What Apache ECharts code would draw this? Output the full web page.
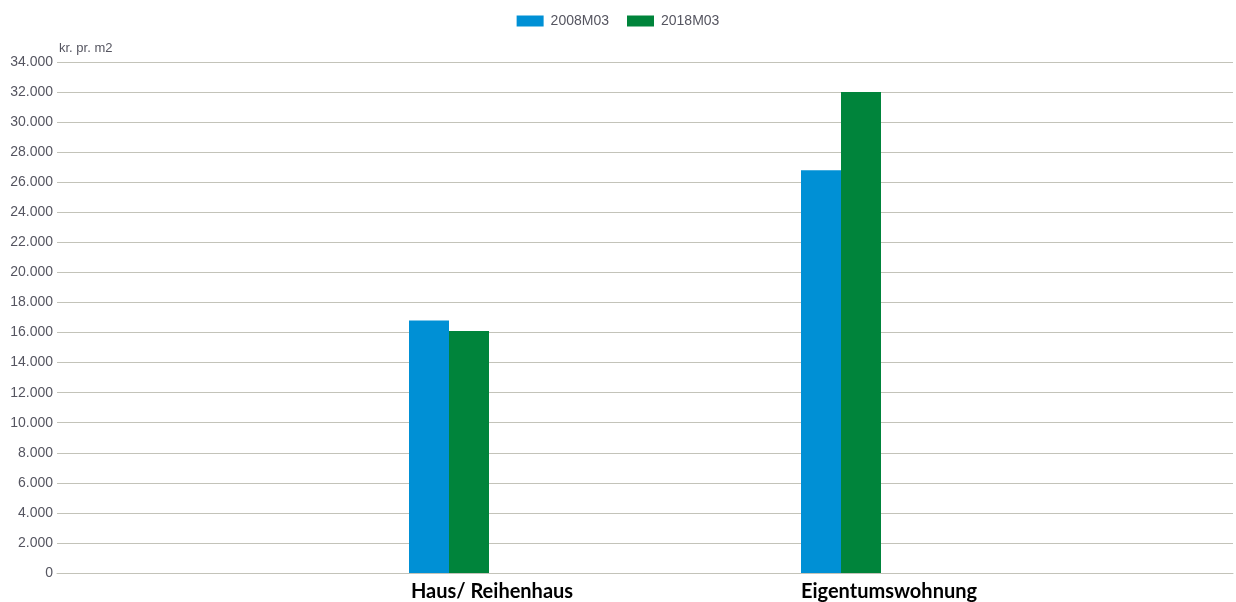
<!DOCTYPE html>
<html>
<head>
<meta charset="utf-8">
<script src="https://cdn.jsdelivr.net/npm/echarts@6/dist/echarts.min.js"></script>
<style>html,body{margin:0;padding:0;background:#fff;overflow:hidden}#c{width:1236px;height:602px}</style>
</head>
<body>
<div id="c"></div>
<script>
var categories = ['', 'Haus/ Reihenhaus', 'Eigentumswohnung', ''];
var seriesNames = ['2008M03', '2018M03'];
var values2008 = ['-', 16800, 26800, '-'];
var values2018 = ['-', 16100, 32000, '-'];
var yTicks = { min: 0, max: 34000, interval: 2000 };
var yName = 'kr. pr. m2';

var chart = echarts.init(document.getElementById('c'));
var gridColor = '#c3c3b9';
var txt = '#555560';
chart.setOption({
  animation: false,
  legend: {
    top: 9, left: 'center',
    itemWidth: 27, itemHeight: 11, itemGap: 18,
    icon: 'rect',
    textStyle: { fontFamily: 'Liberation Sans', fontSize: 14, color: txt, padding: [0, 0, 0, 2] },
    data: seriesNames
  },
  grid: { left: 57, right: -1, top: 62, bottom: 29, containLabel: false },
  xAxis: {
    type: 'category',
    data: categories,
    boundaryGap: false,
    axisLine: { show: true, lineStyle: { color: gridColor, width: 1 } },
    axisTick: { show: false },
    splitLine: { show: false },
    axisLabel: {
      interval: 0, margin: 9,
      fontFamily: 'Lato', fontWeight: 'bold', fontSize: 20, color: '#000',
      align: 'center',
      formatter: function (v, i) { return v ? '{' + (i === 2 ? 'b' : 'a') + '|' + v + '}' : ''; },
      rich: {
        a: { fontFamily: 'Lato', fontWeight: 'bold', fontSize: 20, color: '#000', padding: [0, 0, 0, 86] },
        b: { fontFamily: 'Lato', fontWeight: 'bold', fontSize: 20, color: '#000', padding: [0, 0, 0, 96] }
      }
    }
  },
  yAxis: {
    type: 'value',
    min: yTicks.min, max: yTicks.max, interval: yTicks.interval,
    name: yName,
    nameLocation: 'end',
    nameGap: 7,
    nameTextStyle: { fontFamily: 'Liberation Sans', fontSize: 13, color: txt, align: 'left', padding: [0, 0, 0, 2] },
    axisLine: { show: false },
    axisTick: { show: false },
    splitLine: { lineStyle: { color: gridColor, width: 1 } },
    axisLabel: {
      margin: 4,
      fontFamily: 'Liberation Sans', fontSize: 14, color: txt,
      formatter: function (v) { return v.toString().replace(/\B(?=(\d{3})+(?!\d))/g, '.'); }
    }
  },
  series: [
    { name: seriesNames[0], type: 'bar', data: values2008, barWidth: 40, barGap: '0%', itemStyle: { color: '#0090d5' } },
    { name: seriesNames[1], type: 'bar', data: values2018, barWidth: 40, barGap: '0%', itemStyle: { color: '#00843b' } }
  ]
});
</script>
</body>
</html>
